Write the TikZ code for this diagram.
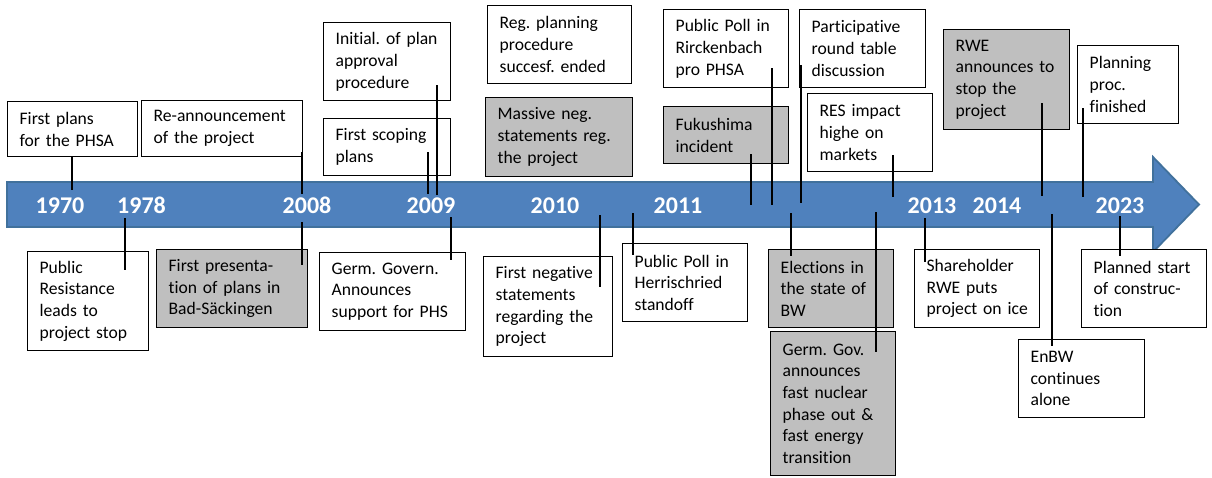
\documentclass[tikz,border=0pt]{standalone}
\usepackage{fontspec}
\setmainfont{Carlito}[Ligatures=NoCommon]
\usetikzlibrary{calc}
\definecolor{arrowcol}{RGB}{79,129,189}
\definecolor{arrowedge}{RGB}{65,113,156}
\definecolor{graycol} {RGB}{191,191,191}

\begin{document}
\frenchspacing
\begin{tikzpicture}[x=1pt, y=-1pt,
    event/.style={draw=black, line width=1.3pt, fill=white, anchor=north west,
        align=left, inner xsep=12pt, inner ysep=4pt,
        font=\fontsize{17.6}{21.7}\selectfont},
    grayevent/.style={event, fill=graycol},
    year/.style={anchor=base, text=white, font=\fontsize{24}{28}\selectfont\bfseries},
    tick/.style={line width=2.3pt}]

\useasboundingbox (0,0) rectangle (1212,477);

% ================================================================
% TIME ARROW
% ================================================================
\draw[fill=arrowcol, draw=arrowedge, line width=1.8pt, line join=miter]
    (7,182) -- (1153,182) -- (1153,157) -- (1199,204.5)
    -- (1153,252) -- (1153,227) -- (7,227) -- cycle;

\node[year] (y1970) at (60,213)   {1970};
\node[year] (y1978) at (141.5,213){1978};
\node[year] (y2008) at (307,213)  {2008};
\node[year] (y2009) at (431,213)  {2009};
\node[year] (y2010) at (555,213)  {2010};
\node[year] (y2011) at (678,213)  {2011};
\node[year] (y2013) at (932,213)  {2013};
\node[year] (y2014) at (997,213)  {2014};
\node[year] (y2023) at (1120,213) {2023};

% pin points on the arrow
\coordinate (pin-plans)    at (72,190);
\coordinate (pin-reann)    at (302,194);
\coordinate (pin-init)     at (437,195);
\coordinate (pin-scoping)  at (428,194);
\coordinate (pin-pollR)    at (772,205);
\coordinate (pin-fuku)     at (751,205);
\coordinate (pin-round)    at (801,203);
\coordinate (pin-res)      at (893,197);
\coordinate (pin-rwe)      at (1042,196);
\coordinate (pin-planproc) at (1083,197);

\coordinate (pin-resist)   at (125,218);
\coordinate (pin-present)  at (302,222);
\coordinate (pin-germsupp) at (451,217);
\coordinate (pin-firstneg) at (600,215);
\coordinate (pin-pollH)    at (633,213);
\coordinate (pin-elect)    at (791,213);
\coordinate (pin-nuclear)  at (876,212);
\coordinate (pin-share)    at (925,218);
\coordinate (pin-enbw)     at (1052,214);
\coordinate (pin-constr)   at (1120,216);

% ================================================================
% EVENTS --- above the arrow
% ================================================================
\node[event, text width=106pt, minimum height=55pt] (plans) at (7,101)
    {First plans\\for the PHSA};
\node[event, text width=137pt, minimum height=56pt] (reann) at (141,100)
    {Re-announcement\\of the project};
\node[event, text width=103pt, minimum height=78pt] (init) at (323,22)
    {Initial. of plan\\approval\\procedure};
\node[event, text width=103pt, minimum height=57pt] (scoping) at (323,118)
    {First scoping\\plans};
\node[event, text width=120pt, minimum height=78pt] (regplan) at (487,5)
    {Reg. planning\\procedure\\succesf. ended};
\node[grayevent, text width=123pt, minimum height=79pt] (massive) at (485,97)
    {Massive neg.\\statements reg.\\the project};
\node[event, text width=101pt, minimum height=78pt] (pollR) at (663,9)
    {Public Poll in\\Rirckenbach\\pro PHSA};
\node[grayevent, text width=101pt, minimum height=57pt] (fuku) at (663,106)
    {Fukushima\\incident};
\node[event, text width=102pt, minimum height=78pt] (round) at (799,9)
    {Participative\\round table\\discussion};
\node[event, text width=101pt, minimum height=78pt] (res) at (807,93)
    {RES impact\\highe on\\markets};
\node[grayevent, text width=102pt, minimum height=100pt] (rwe) at (943,29)
    {RWE\\announces to\\stop the\\project};
\node[event, text width=77pt, minimum height=78pt] (planproc) at (1077,45)
    {Planning\\proc.\\finished};

% ================================================================
% EVENTS --- below the arrow
% ================================================================
\node[event, text width=97pt, minimum height=99pt] (resist) at (27,251)
    {Public\\Resistance\\leads to\\project stop};
\node[grayevent, text width=127pt, minimum height=78pt] (present) at (156,249)
    {First presenta-\\tion of plans in\\Bad-Säckingen};
\node[event, text width=122pt, minimum height=78pt] (germsupp) at (319,252)
    {Germ. Govern.\\Announces\\support for PHS};
\node[event, text width=105pt, minimum height=100pt] (firstneg) at (483,256)
    {First negative\\statements\\regarding the\\project};
\node[event, text width=101pt, minimum height=78pt] (pollH) at (622,243)
    {Public Poll in\\Herrischried\\standoff};
\node[grayevent, text width=101pt, minimum height=78pt] (elect) at (768,249)
    {Elections in\\the state of\\BW};
\node[grayevent, text width=101pt, minimum height=144pt] (nuclear) at (770,331)
    {Germ. Gov.\\announces\\fast nuclear\\phase out \&\\fast energy\\transition};
\node[event, text width=101pt, minimum height=78pt] (share) at (914,249)
    {Shareholder\\RWE puts\\project~on~ice};
\node[event, text width=102pt, minimum height=78pt] (enbw) at (1018,339)
    {EnBW\\continues\\alone};
\node[event, text width=101pt, minimum height=78pt] (constr) at (1081,249)
    {Planned start\\of construc-\\tion};

% ================================================================
% TICKS
% ================================================================
\draw[tick] (plans.south -| pin-plans) -- (pin-plans);
\draw[tick] ($(reann.south -| pin-reann)+(0,-5)$) -- (pin-reann);
\draw[tick] ($(init.south -| pin-init)+(0,-16)$) -- (pin-init);
\draw[tick] ($(scoping.south -| pin-scoping)+(0,-24)$) -- (pin-scoping);
\draw[tick] ($(pollR.south -| pin-pollR)+(0,-20)$) -- (pin-pollR);
\draw[tick] ($(fuku.south -| pin-fuku)+(0,-10)$) -- (pin-fuku);
\draw[tick] ($(round.south -| pin-round)+(0,-23)$) -- (pin-round);
\draw[tick] ($(res.south -| pin-res)+(0,-17)$) -- (pin-res);
\draw[tick] ($(rwe.south -| pin-rwe)+(0,-27)$) -- (pin-rwe);
\draw[tick] ($(planproc.south -| pin-planproc)+(0,-16)$) -- (pin-planproc);

\draw[tick] (pin-resist)   -- ($(resist.north -| pin-resist)+(0,19)$);
\draw[tick] (pin-present)  -- ($(present.north -| pin-present)+(0,16)$);
\draw[tick] (pin-germsupp) -- ($(germsupp.north -| pin-germsupp)+(0,8)$);
\draw[tick] (pin-firstneg) -- ($(firstneg.north -| pin-firstneg)+(0,31)$);
\draw[tick] (pin-pollH)    -- ($(pollH.north -| pin-pollH)+(0,12)$);
\draw[tick] (pin-elect)    -- ($(elect.north -| pin-elect)+(0,7)$);
\draw[tick] (pin-nuclear)  -- ($(nuclear.north -| pin-nuclear)+(0,21)$);
\draw[tick] (pin-share)    -- ($(share.north -| pin-share)+(0,13)$);
\draw[tick] (pin-enbw)     -- ($(enbw.north -| pin-enbw)+(0,7)$);
\draw[tick] (pin-constr)   -- ($(constr.north -| pin-constr)+(0,7)$);

\end{tikzpicture}
\end{document}
